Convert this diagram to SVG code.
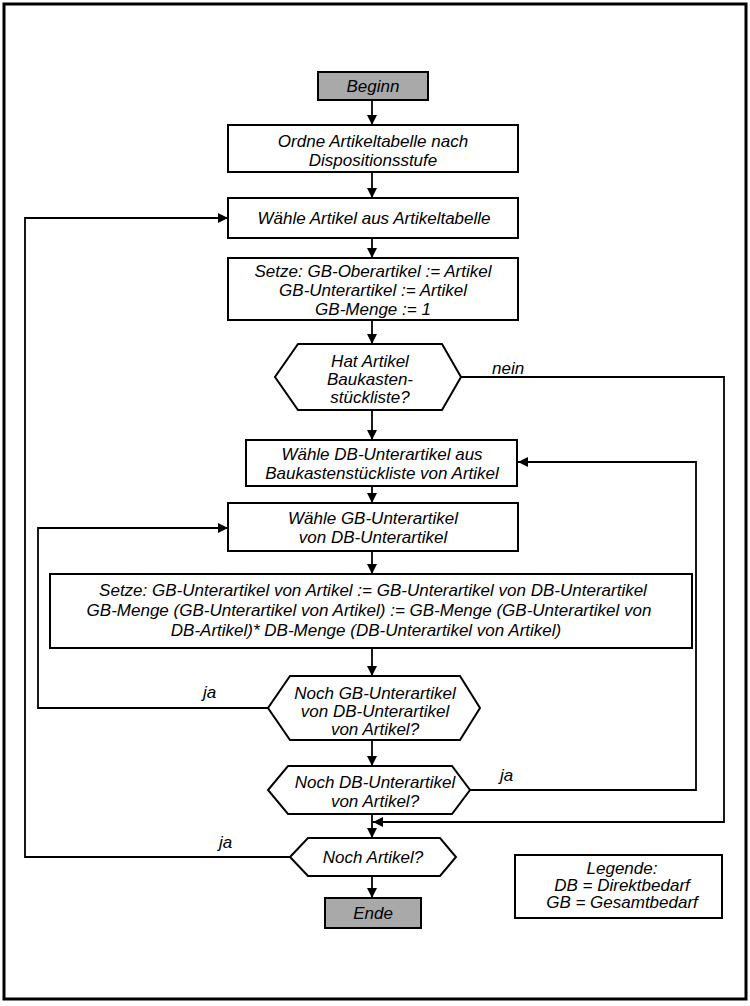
<svg xmlns="http://www.w3.org/2000/svg" width="750" height="1006" viewBox="0 0 750 1006">
<defs>
<marker id="ah" viewBox="0 0 10 10" refX="10" refY="5" markerWidth="10" markerHeight="10" markerUnits="userSpaceOnUse" orient="auto">
<path d="M0,0 L10,5 L0,10 Z" fill="#000"/>
</marker>
</defs>
<style>
.box{fill:#fff;stroke:#000;stroke-width:2}
.term{fill:#a9a9a9;stroke:#000;stroke-width:2}
.t{font-family:"Liberation Sans",Arial,sans-serif;font-style:italic;font-size:17px;fill:#000;text-anchor:middle}
.lbl{font-family:"Liberation Sans",Arial,sans-serif;font-style:italic;font-size:17px;fill:#000}
.c{fill:none;stroke:#000;stroke-width:1.8}
.ca{fill:none;stroke:#000;stroke-width:1.8;marker-end:url(#ah)}
</style>
<rect x="0" y="0" width="750" height="1006" fill="#fff"/>
<rect x="4" y="4" width="742" height="995" fill="none" stroke="#000" stroke-width="3"/>

<g id="connectors">
<line class="ca" x1="372" y1="100" x2="372" y2="125"/>
<line class="ca" x1="372" y1="172" x2="372" y2="198"/>
<line class="ca" x1="372" y1="238" x2="372" y2="258"/>
<line class="ca" x1="372" y1="320" x2="372" y2="344"/>
<line class="ca" x1="372" y1="410" x2="372" y2="440"/>
<line class="ca" x1="372" y1="486" x2="372" y2="503"/>
<line class="ca" x1="372" y1="551" x2="372" y2="574"/>
<line class="ca" x1="372" y1="648" x2="372" y2="676"/>
<line class="ca" x1="372" y1="740" x2="372" y2="766"/>
<line class="ca" x1="372" y1="814" x2="372" y2="838"/>
<line class="ca" x1="372" y1="876" x2="372" y2="898"/>
<polyline class="ca" points="461,377 724,377 724,822 373,822"/>
<polyline class="ca" points="470,790 696,790 696,462 518,462"/>
<polyline class="ca" points="268,708 38,708 38,528 228,528"/>
<polyline class="ca" points="290,857 25,857 25,218 228,218"/>
<text class="lbl" x="492" y="374">nein</text>
<text class="lbl" x="500" y="781">ja</text>
<text class="lbl" x="203" y="698">ja</text>
<text class="lbl" x="219" y="848">ja</text>
</g>

<g id="beginn">
<rect class="term" x="318" y="72" width="110" height="28"/>
<text class="t" x="373" y="92">Beginn</text>
</g>

<g id="ordne">
<rect class="box" x="228" y="125" width="290" height="47"/>
<text class="t" x="373" y="147">Ordne Artikeltabelle nach</text>
<text class="t" x="373" y="166">Dispositionsstufe</text>
</g>

<g id="waehle-artikel">
<rect class="box" x="228" y="198" width="290" height="40"/>
<text class="t" x="374" y="224">Wähle Artikel aus Artikeltabelle</text>
</g>

<g id="setze1">
<rect class="box" x="228" y="258" width="290" height="62"/>
<text class="t" x="373" y="277">Setze: GB-Oberartikel := Artikel</text>
<text class="t" x="373" y="296">GB-Unterartikel := Artikel</text>
<text class="t" x="373" y="315">GB-Menge := 1</text>
</g>

<g id="hat-baukasten">
<polygon class="box" points="298,344 442,344 461,377 442,410 298,410 275,377"/>
<text class="t" x="370" y="367">Hat Artikel</text>
<text class="t" x="370" y="385">Baukasten-</text>
<text class="t" x="370" y="403">stückliste?</text>
</g>

<g id="waehle-db">
<rect class="box" x="246" y="440" width="271" height="46"/>
<text class="t" x="382" y="460">Wähle DB-Unterartikel aus</text>
<text class="t" x="382" y="479">Baukastenstückliste von Artikel</text>
</g>

<g id="waehle-gb">
<rect class="box" x="228" y="503" width="290" height="48"/>
<text class="t" x="373" y="524">Wähle GB-Unterartikel</text>
<text class="t" x="373" y="543">von DB-Unterartikel</text>
</g>

<g id="setze2">
<rect class="box" x="50" y="574" width="642" height="74"/>
<text class="t" x="373" y="596">Setze: GB-Unterartikel von Artikel := GB-Unterartikel von DB-Unterartikel</text>
<text class="t" x="369" y="616">GB-Menge (GB-Unterartikel von Artikel) := GB-Menge (GB-Unterartikel von</text>
<text class="t" x="366" y="636">DB-Artikel)* DB-Menge (DB-Unterartikel von Artikel)</text>
</g>

<g id="noch-gb">
<polygon class="box" points="290,676 460,676 480,708 460,740 290,740 268,708"/>
<text class="t" x="375" y="699">Noch GB-Unterartikel</text>
<text class="t" x="375" y="717">von DB-Unterartikel</text>
<text class="t" x="375" y="735">von Artikel?</text>
</g>

<g id="noch-db">
<polygon class="box" points="288,766 452,766 470,790 452,814 288,814 268,790"/>
<text class="t" x="375" y="788">Noch DB-Unterartikel</text>
<text class="t" x="375" y="807">von Artikel?</text>
</g>

<g id="noch-artikel">
<polygon class="box" points="308,838 440,838 456,857 440,876 308,876 290,857"/>
<text class="t" x="373" y="863">Noch Artikel?</text>
</g>

<g id="ende">
<rect class="term" x="325" y="898" width="96" height="30"/>
<text class="t" x="373" y="919">Ende</text>
</g>

<g id="legende">
<rect class="box" x="515" y="855" width="207" height="63"/>
<text class="t" x="622" y="874">Legende:</text>
<text class="t" x="622" y="891">DB = Direktbedarf</text>
<text class="t" x="622" y="908">GB = Gesamtbedarf</text>
</g>
</svg>
